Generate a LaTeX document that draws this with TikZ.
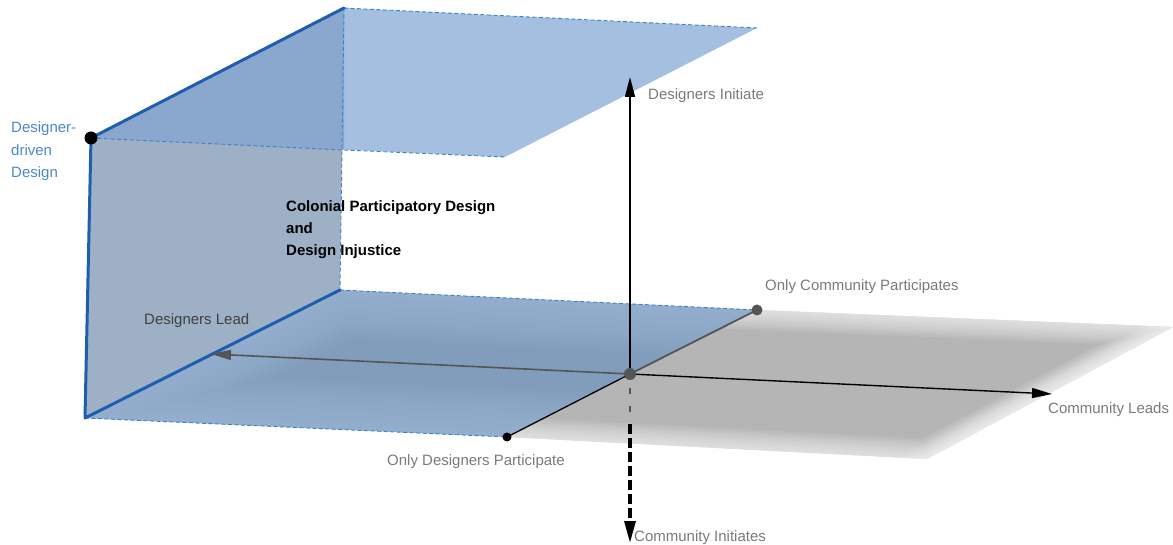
\documentclass[tikz,border=0pt]{standalone}
\usepackage{fontspec}
\setmainfont{Liberation Sans}
\usetikzlibrary{arrows.meta,calc}
\definecolor{wallc}{HTML}{9EB0C6}
\definecolor{overc}{HTML}{8AA8CE}
\definecolor{topc}{HTML}{A4BFE0}
\definecolor{botc}{HTML}{829CBC}
\definecolor{botedge}{HTML}{A8C2E2}
\definecolor{grayc}{HTML}{B5B5B5}
\definecolor{edgeblue}{HTML}{1F5EAE}
\definecolor{dashblue}{HTML}{3F7FCC}
\definecolor{lblgray}{HTML}{7A7A7A}
\definecolor{lblblue}{HTML}{4A88CC}
\definecolor{axgray}{HTML}{555555}
\tikzset{
  lbl/.style={anchor=base west, inner sep=0pt, text=lblgray, font=\fontsize{15}{18}\selectfont},
  boldlbl/.style={anchor=base west, inner sep=0pt, text=black, font=\fontsize{15}{18}\selectfont\bfseries},
  bluelbl/.style={anchor=base west, inner sep=0pt, text=lblblue, font=\fontsize{15}{18}\selectfont},
  edgedash/.style={dashblue, line width=0.9pt, dash pattern=on 4pt off 2.5pt},
  thickedge/.style={edgeblue, line width=3pt, line cap=round, line join=round},
  axis/.style={black, line width=1.4pt, -{Triangle[length=20pt, width=10pt]}},
  dot/.style={circle, fill=black, inner sep=0pt, minimum size=#1}
}
\begin{document}
\begin{tikzpicture}[x=1pt, y=-1pt]
\useasboundingbox (0,0) rectangle (1173,545);
% points
\coordinate (DD) at (91,138);
\coordinate (TB) at (344,8);
\coordinate (TR) at (757,28);
\coordinate (TF) at (505,157);
\coordinate (TM) at (344,150);
\coordinate (BL) at (85,418);
\coordinate (BB) at (340,290);
\coordinate (BR) at (757,310);
\coordinate (BF) at (507,437);
\coordinate (GR) at (1173,327);
\coordinate (GF) at (927,459);
\coordinate (O) at (630,374);
\coordinate (UP) at (630,77);
\coordinate (DM) at (630,424);
\coordinate (DN) at (630,543);
\coordinate (LT) at (211,354);
\coordinate (RT) at (1052,394);
% gray plane with faded edges
\begin{scope}
  \clip (BF) -- (BR) -- (GR) -- (GF) -- cycle;
  \fill[grayc] (BF) -- (BR) -- (GR) -- (GF) -- cycle;
  \foreach \w in {5,10,...,40}
    \draw[white, opacity=0.1, line width=\w pt, line join=miter]
      ($(BR)!-0.4!(GR)$) -- (BR) -- (GR) -- (GF) -- (BF) -- ($(BF)!-0.4!(GF)$);
  \foreach \w in {5,10,...,30}
    \draw[white, opacity=0.08, line width=\w pt]
      ($(GR)!-0.4!(GF)$) -- ($(GF)!-0.4!(GR)$);
\end{scope}
% bottom blue plane with lighter edges
\begin{scope}
  \clip (BL) -- (BB) -- (BR) -- (BF) -- cycle;
  \fill[botc] (BL) -- (BB) -- (BR) -- (BF) -- cycle;
  \foreach \w in {8,16,...,96}
    \draw[botedge, opacity=0.07, line width=\w pt, line join=miter]
      ($(BF)!-0.4!(BL)$) -- (BL) -- (BB) -- (BR) -- ($(BR)!-0.4!(BB)$);
\end{scope}
% wall
\fill[wallc] (DD) -- (TB) -- (BB) -- (BL) -- cycle;
% top plane
\fill[topc] (DD) -- (TB) -- (TR) -- (TF) -- cycle;
\fill[overc] (DD) -- (TB) -- (TM) -- cycle;
% dashed edges
\draw[edgedash] (TB) -- (TR);
\draw[edgedash] (DD) -- (TM) -- (TF);
\draw[edgedash] (TB) -- (BB);
\draw[edgedash] (BB) -- (BR);
\draw[edgedash] (BL) -- (BF);
% thick blue edges
\draw[thickedge] (TB) -- (DD) -- (BL) -- (BB);
% axes
\draw[axis] (O) -- (UP);
\draw[axis] (O) -- (RT);
\draw[axgray, line width=1.6pt, -{Triangle[length=20pt, width=10pt]}] (O) -- (LT);
\draw[black, line width=1.3pt] (BF) -- (O);
\draw[axgray, line width=1.8pt] (O) -- (BR);
\draw[axgray, line width=1.6pt, dash pattern=on 6pt off 12pt] ([yshift=-14pt]O) -- (DM);
\draw[black, line width=3.2pt, dash pattern=on 10pt off 4pt, -{Triangle[length=22pt, width=11pt]}] (DM) -- (DN);
% dots
\node[dot=9pt] (dBF) at (BF) {};
\node[dot=11pt, fill=axgray] (dBR) at (BR) {};
\node[dot=12pt, fill=axgray] (dO) at (O) {};
\node[dot=13pt] (dDD) at (DD) {};
% labels
\node[lbl] (lUp) at (648,100) {Designers Initiate};
\node[lbl] (lRt) at (1048,413) {Community Leads};
\node[lbl] (lOCP) at (765,291) {Only Community Participates};
\node[lbl] (lODP) at (387,465) {Only Designers Participate};
\node[lbl] (lDn) at (634,541) {Community Initiates};
\node[lbl, text=black!75] (lLt) at (144,325) {Designers Lead};
\node[bluelbl] (dd1) at (11,133) {Designer-};
\node[bluelbl] (dd2) at (11,156) {driven};
\node[bluelbl] (dd3) at (11,178) {Design};
\node[boldlbl] (c1) at (286,212) {Colonial Participatory Design};
\node[boldlbl] (c2) at (286,234) {and};
\node[boldlbl] (c3) at (286,256) {Design Injustice};
\end{tikzpicture}
\end{document}
